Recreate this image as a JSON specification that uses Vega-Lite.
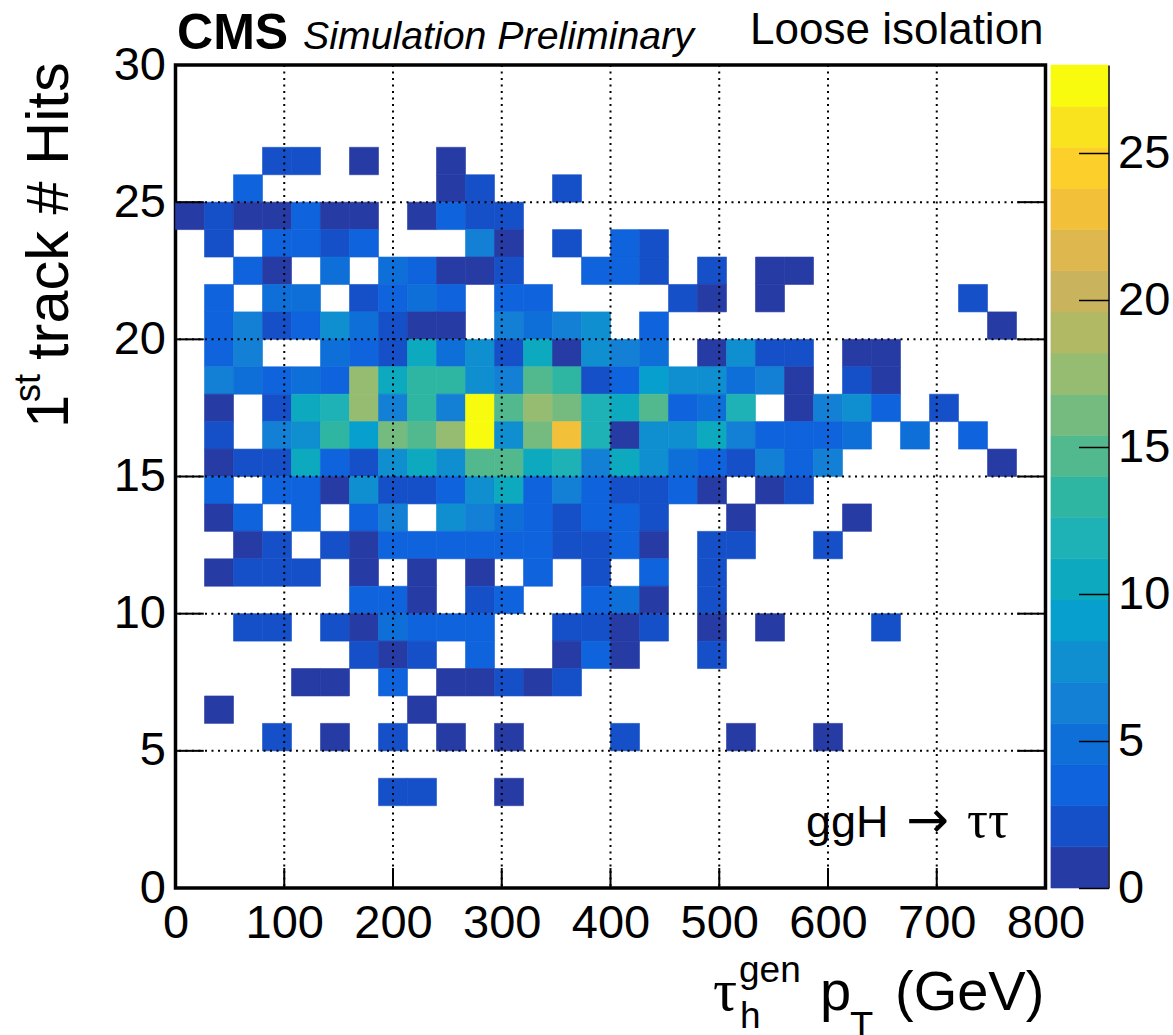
{
"$schema":"https://vega.github.io/schema/vega-lite/v6.json",
"autosize":{"type":"none"},
"padding":{"left":175.5,"top":65,"right":127.5,"bottom":147},
"width":870,"height":823,
"background":"white",
"config":{"view":{"stroke":"black","strokeWidth":3.5},"font":"Liberation Sans"},
"layer":[
{"data":{"values":[
{"pt":80,"pt2":106.67,"hits":26,"hits2":27,"n":2},{"pt":106.67,"pt2":133.33,"hits":26,"hits2":27,"n":2},{"pt":160,"pt2":186.67,"hits":26,"hits2":27,"n":1},{"pt":240,"pt2":266.67,"hits":26,"hits2":27,"n":1},
{"pt":53.33,"pt2":80,"hits":25,"hits2":26,"n":3},{"pt":240,"pt2":266.67,"hits":25,"hits2":26,"n":1},{"pt":266.67,"pt2":293.33,"hits":25,"hits2":26,"n":2},{"pt":346.67,"pt2":373.33,"hits":25,"hits2":26,"n":2},
{"pt":0,"pt2":26.67,"hits":24,"hits2":25,"n":1},{"pt":26.67,"pt2":53.33,"hits":24,"hits2":25,"n":2},{"pt":53.33,"pt2":80,"hits":24,"hits2":25,"n":1},{"pt":80,"pt2":106.67,"hits":24,"hits2":25,"n":1},{"pt":106.67,"pt2":133.33,"hits":24,"hits2":25,"n":3},{"pt":133.33,"pt2":160,"hits":24,"hits2":25,"n":1},{"pt":160,"pt2":186.67,"hits":24,"hits2":25,"n":1},{"pt":213.33,"pt2":240,"hits":24,"hits2":25,"n":1},{"pt":240,"pt2":266.67,"hits":24,"hits2":25,"n":3},{"pt":266.67,"pt2":293.33,"hits":24,"hits2":25,"n":2},{"pt":293.33,"pt2":320,"hits":24,"hits2":25,"n":2},
{"pt":26.67,"pt2":53.33,"hits":23,"hits2":24,"n":2},{"pt":80,"pt2":106.67,"hits":23,"hits2":24,"n":3},{"pt":106.67,"pt2":133.33,"hits":23,"hits2":24,"n":3},{"pt":133.33,"pt2":160,"hits":23,"hits2":24,"n":2},{"pt":160,"pt2":186.67,"hits":23,"hits2":24,"n":3},{"pt":266.67,"pt2":293.33,"hits":23,"hits2":24,"n":6},{"pt":293.33,"pt2":320,"hits":23,"hits2":24,"n":1},{"pt":346.67,"pt2":373.33,"hits":23,"hits2":24,"n":2},{"pt":400,"pt2":426.67,"hits":23,"hits2":24,"n":3},{"pt":426.67,"pt2":453.33,"hits":23,"hits2":24,"n":2},
{"pt":53.33,"pt2":80,"hits":22,"hits2":23,"n":3},{"pt":80,"pt2":106.67,"hits":22,"hits2":23,"n":1},{"pt":133.33,"pt2":160,"hits":22,"hits2":23,"n":5},{"pt":186.67,"pt2":213.33,"hits":22,"hits2":23,"n":5},{"pt":213.33,"pt2":240,"hits":22,"hits2":23,"n":3},{"pt":240,"pt2":266.67,"hits":22,"hits2":23,"n":1},{"pt":266.67,"pt2":293.33,"hits":22,"hits2":23,"n":1},{"pt":293.33,"pt2":320,"hits":22,"hits2":23,"n":2},{"pt":373.33,"pt2":400,"hits":22,"hits2":23,"n":3},{"pt":400,"pt2":426.67,"hits":22,"hits2":23,"n":3},{"pt":426.67,"pt2":453.33,"hits":22,"hits2":23,"n":2},{"pt":480,"pt2":506.67,"hits":22,"hits2":23,"n":2},{"pt":533.33,"pt2":560,"hits":22,"hits2":23,"n":1},{"pt":560,"pt2":586.67,"hits":22,"hits2":23,"n":1},
{"pt":26.67,"pt2":53.33,"hits":21,"hits2":22,"n":3},{"pt":80,"pt2":106.67,"hits":21,"hits2":22,"n":5},{"pt":106.67,"pt2":133.33,"hits":21,"hits2":22,"n":5},{"pt":160,"pt2":186.67,"hits":21,"hits2":22,"n":2},{"pt":186.67,"pt2":213.33,"hits":21,"hits2":22,"n":3},{"pt":213.33,"pt2":240,"hits":21,"hits2":22,"n":5},{"pt":240,"pt2":266.67,"hits":21,"hits2":22,"n":3},{"pt":293.33,"pt2":320,"hits":21,"hits2":22,"n":3},{"pt":320,"pt2":346.67,"hits":21,"hits2":22,"n":3},{"pt":453.33,"pt2":480,"hits":21,"hits2":22,"n":2},{"pt":480,"pt2":506.67,"hits":21,"hits2":22,"n":1},{"pt":533.33,"pt2":560,"hits":21,"hits2":22,"n":1},{"pt":720,"pt2":746.67,"hits":21,"hits2":22,"n":2},
{"pt":26.67,"pt2":53.33,"hits":20,"hits2":21,"n":3},{"pt":53.33,"pt2":80,"hits":20,"hits2":21,"n":6},{"pt":80,"pt2":106.67,"hits":20,"hits2":21,"n":2},{"pt":106.67,"pt2":133.33,"hits":20,"hits2":21,"n":3},{"pt":133.33,"pt2":160,"hits":20,"hits2":21,"n":7},{"pt":160,"pt2":186.67,"hits":20,"hits2":21,"n":5},{"pt":186.67,"pt2":213.33,"hits":20,"hits2":21,"n":2},{"pt":213.33,"pt2":240,"hits":20,"hits2":21,"n":1},{"pt":240,"pt2":266.67,"hits":20,"hits2":21,"n":1},{"pt":293.33,"pt2":320,"hits":20,"hits2":21,"n":6},{"pt":320,"pt2":346.67,"hits":20,"hits2":21,"n":5},{"pt":346.67,"pt2":373.33,"hits":20,"hits2":21,"n":6},{"pt":373.33,"pt2":400,"hits":20,"hits2":21,"n":7},{"pt":426.67,"pt2":453.33,"hits":20,"hits2":21,"n":3},{"pt":746.67,"pt2":773.33,"hits":20,"hits2":21,"n":1},
{"pt":26.67,"pt2":53.33,"hits":19,"hits2":20,"n":3},{"pt":53.33,"pt2":80,"hits":19,"hits2":20,"n":6},{"pt":133.33,"pt2":160,"hits":19,"hits2":20,"n":5},{"pt":160,"pt2":186.67,"hits":19,"hits2":20,"n":3},{"pt":186.67,"pt2":213.33,"hits":19,"hits2":20,"n":2},{"pt":213.33,"pt2":240,"hits":19,"hits2":20,"n":10},{"pt":240,"pt2":266.67,"hits":19,"hits2":20,"n":5},{"pt":266.67,"pt2":293.33,"hits":19,"hits2":20,"n":7},{"pt":293.33,"pt2":320,"hits":19,"hits2":20,"n":2},{"pt":320,"pt2":346.67,"hits":19,"hits2":20,"n":10},{"pt":346.67,"pt2":373.33,"hits":19,"hits2":20,"n":1},{"pt":373.33,"pt2":400,"hits":19,"hits2":20,"n":7},{"pt":400,"pt2":426.67,"hits":19,"hits2":20,"n":6},{"pt":426.67,"pt2":453.33,"hits":19,"hits2":20,"n":5},{"pt":480,"pt2":506.67,"hits":19,"hits2":20,"n":1},{"pt":506.67,"pt2":533.33,"hits":19,"hits2":20,"n":7},{"pt":533.33,"pt2":560,"hits":19,"hits2":20,"n":2},{"pt":560,"pt2":586.67,"hits":19,"hits2":20,"n":2},{"pt":613.33,"pt2":640,"hits":19,"hits2":20,"n":1},{"pt":640,"pt2":666.67,"hits":19,"hits2":20,"n":1},
{"pt":26.67,"pt2":53.33,"hits":18,"hits2":19,"n":6},{"pt":53.33,"pt2":80,"hits":18,"hits2":19,"n":5},{"pt":80,"pt2":106.67,"hits":18,"hits2":19,"n":3},{"pt":106.67,"pt2":133.33,"hits":18,"hits2":19,"n":5},{"pt":133.33,"pt2":160,"hits":18,"hits2":19,"n":3},{"pt":160,"pt2":186.67,"hits":18,"hits2":19,"n":17},{"pt":186.67,"pt2":213.33,"hits":18,"hits2":19,"n":10},{"pt":213.33,"pt2":240,"hits":18,"hits2":19,"n":13},{"pt":240,"pt2":266.67,"hits":18,"hits2":19,"n":13},{"pt":266.67,"pt2":293.33,"hits":18,"hits2":19,"n":7},{"pt":293.33,"pt2":320,"hits":18,"hits2":19,"n":6},{"pt":320,"pt2":346.67,"hits":18,"hits2":19,"n":14},{"pt":346.67,"pt2":373.33,"hits":18,"hits2":19,"n":13},{"pt":373.33,"pt2":400,"hits":18,"hits2":19,"n":2},{"pt":400,"pt2":426.67,"hits":18,"hits2":19,"n":3},{"pt":426.67,"pt2":453.33,"hits":18,"hits2":19,"n":9},{"pt":453.33,"pt2":480,"hits":18,"hits2":19,"n":7},{"pt":480,"pt2":506.67,"hits":18,"hits2":19,"n":7},{"pt":506.67,"pt2":533.33,"hits":18,"hits2":19,"n":5},{"pt":533.33,"pt2":560,"hits":18,"hits2":19,"n":6},{"pt":560,"pt2":586.67,"hits":18,"hits2":19,"n":1},{"pt":613.33,"pt2":640,"hits":18,"hits2":19,"n":2},{"pt":640,"pt2":666.67,"hits":18,"hits2":19,"n":1},
{"pt":26.67,"pt2":53.33,"hits":17,"hits2":18,"n":1},{"pt":80,"pt2":106.67,"hits":17,"hits2":18,"n":2},{"pt":106.67,"pt2":133.33,"hits":17,"hits2":18,"n":10},{"pt":133.33,"pt2":160,"hits":17,"hits2":18,"n":12},{"pt":160,"pt2":186.67,"hits":17,"hits2":18,"n":17},{"pt":186.67,"pt2":213.33,"hits":17,"hits2":18,"n":6},{"pt":213.33,"pt2":240,"hits":17,"hits2":18,"n":13},{"pt":240,"pt2":266.67,"hits":17,"hits2":18,"n":6},{"pt":266.67,"pt2":293.33,"hits":17,"hits2":18,"n":28},{"pt":293.33,"pt2":320,"hits":17,"hits2":18,"n":14},{"pt":320,"pt2":346.67,"hits":17,"hits2":18,"n":17},{"pt":346.67,"pt2":373.33,"hits":17,"hits2":18,"n":16},{"pt":373.33,"pt2":400,"hits":17,"hits2":18,"n":12},{"pt":400,"pt2":426.67,"hits":17,"hits2":18,"n":10},{"pt":426.67,"pt2":453.33,"hits":17,"hits2":18,"n":14},{"pt":453.33,"pt2":480,"hits":17,"hits2":18,"n":3},{"pt":480,"pt2":506.67,"hits":17,"hits2":18,"n":5},{"pt":506.67,"pt2":533.33,"hits":17,"hits2":18,"n":12},{"pt":560,"pt2":586.67,"hits":17,"hits2":18,"n":1},{"pt":586.67,"pt2":613.33,"hits":17,"hits2":18,"n":6},{"pt":613.33,"pt2":640,"hits":17,"hits2":18,"n":7},{"pt":640,"pt2":666.67,"hits":17,"hits2":18,"n":3},{"pt":693.33,"pt2":720,"hits":17,"hits2":18,"n":2},
{"pt":26.67,"pt2":53.33,"hits":16,"hits2":17,"n":2},{"pt":80,"pt2":106.67,"hits":16,"hits2":17,"n":6},{"pt":106.67,"pt2":133.33,"hits":16,"hits2":17,"n":7},{"pt":133.33,"pt2":160,"hits":16,"hits2":17,"n":13},{"pt":160,"pt2":186.67,"hits":16,"hits2":17,"n":9},{"pt":186.67,"pt2":213.33,"hits":16,"hits2":17,"n":16},{"pt":213.33,"pt2":240,"hits":16,"hits2":17,"n":14},{"pt":240,"pt2":266.67,"hits":16,"hits2":17,"n":17},{"pt":266.67,"pt2":293.33,"hits":16,"hits2":17,"n":28},{"pt":293.33,"pt2":320,"hits":16,"hits2":17,"n":7},{"pt":320,"pt2":346.67,"hits":16,"hits2":17,"n":16},{"pt":346.67,"pt2":373.33,"hits":16,"hits2":17,"n":23},{"pt":373.33,"pt2":400,"hits":16,"hits2":17,"n":12},{"pt":400,"pt2":426.67,"hits":16,"hits2":17,"n":1},{"pt":426.67,"pt2":453.33,"hits":16,"hits2":17,"n":7},{"pt":453.33,"pt2":480,"hits":16,"hits2":17,"n":7},{"pt":480,"pt2":506.67,"hits":16,"hits2":17,"n":10},{"pt":506.67,"pt2":533.33,"hits":16,"hits2":17,"n":6},{"pt":533.33,"pt2":560,"hits":16,"hits2":17,"n":3},{"pt":560,"pt2":586.67,"hits":16,"hits2":17,"n":3},{"pt":586.67,"pt2":613.33,"hits":16,"hits2":17,"n":3},{"pt":613.33,"pt2":640,"hits":16,"hits2":17,"n":5},{"pt":666.67,"pt2":693.33,"hits":16,"hits2":17,"n":5},{"pt":720,"pt2":746.67,"hits":16,"hits2":17,"n":3},
{"pt":26.67,"pt2":53.33,"hits":15,"hits2":16,"n":1},{"pt":53.33,"pt2":80,"hits":15,"hits2":16,"n":2},{"pt":80,"pt2":106.67,"hits":15,"hits2":16,"n":2},{"pt":106.67,"pt2":133.33,"hits":15,"hits2":16,"n":10},{"pt":133.33,"pt2":160,"hits":15,"hits2":16,"n":3},{"pt":160,"pt2":186.67,"hits":15,"hits2":16,"n":2},{"pt":186.67,"pt2":213.33,"hits":15,"hits2":16,"n":7},{"pt":213.33,"pt2":240,"hits":15,"hits2":16,"n":10},{"pt":240,"pt2":266.67,"hits":15,"hits2":16,"n":7},{"pt":266.67,"pt2":293.33,"hits":15,"hits2":16,"n":14},{"pt":293.33,"pt2":320,"hits":15,"hits2":16,"n":14},{"pt":320,"pt2":346.67,"hits":15,"hits2":16,"n":10},{"pt":346.67,"pt2":373.33,"hits":15,"hits2":16,"n":12},{"pt":373.33,"pt2":400,"hits":15,"hits2":16,"n":6},{"pt":400,"pt2":426.67,"hits":15,"hits2":16,"n":10},{"pt":426.67,"pt2":453.33,"hits":15,"hits2":16,"n":7},{"pt":453.33,"pt2":480,"hits":15,"hits2":16,"n":5},{"pt":480,"pt2":506.67,"hits":15,"hits2":16,"n":3},{"pt":506.67,"pt2":533.33,"hits":15,"hits2":16,"n":2},{"pt":533.33,"pt2":560,"hits":15,"hits2":16,"n":6},{"pt":560,"pt2":586.67,"hits":15,"hits2":16,"n":3},{"pt":586.67,"pt2":613.33,"hits":15,"hits2":16,"n":6},{"pt":746.67,"pt2":773.33,"hits":15,"hits2":16,"n":1},
{"pt":26.67,"pt2":53.33,"hits":14,"hits2":15,"n":3},{"pt":80,"pt2":106.67,"hits":14,"hits2":15,"n":3},{"pt":106.67,"pt2":133.33,"hits":14,"hits2":15,"n":3},{"pt":133.33,"pt2":160,"hits":14,"hits2":15,"n":1},{"pt":160,"pt2":186.67,"hits":14,"hits2":15,"n":7},{"pt":186.67,"pt2":213.33,"hits":14,"hits2":15,"n":2},{"pt":213.33,"pt2":240,"hits":14,"hits2":15,"n":2},{"pt":240,"pt2":266.67,"hits":14,"hits2":15,"n":3},{"pt":266.67,"pt2":293.33,"hits":14,"hits2":15,"n":7},{"pt":293.33,"pt2":320,"hits":14,"hits2":15,"n":10},{"pt":320,"pt2":346.67,"hits":14,"hits2":15,"n":3},{"pt":346.67,"pt2":373.33,"hits":14,"hits2":15,"n":6},{"pt":373.33,"pt2":400,"hits":14,"hits2":15,"n":3},{"pt":400,"pt2":426.67,"hits":14,"hits2":15,"n":2},{"pt":426.67,"pt2":453.33,"hits":14,"hits2":15,"n":2},{"pt":453.33,"pt2":480,"hits":14,"hits2":15,"n":3},{"pt":480,"pt2":506.67,"hits":14,"hits2":15,"n":1},{"pt":533.33,"pt2":560,"hits":14,"hits2":15,"n":1},{"pt":560,"pt2":586.67,"hits":14,"hits2":15,"n":2},
{"pt":26.67,"pt2":53.33,"hits":13,"hits2":14,"n":1},{"pt":53.33,"pt2":80,"hits":13,"hits2":14,"n":3},{"pt":106.67,"pt2":133.33,"hits":13,"hits2":14,"n":3},{"pt":160,"pt2":186.67,"hits":13,"hits2":14,"n":3},{"pt":186.67,"pt2":213.33,"hits":13,"hits2":14,"n":6},{"pt":240,"pt2":266.67,"hits":13,"hits2":14,"n":7},{"pt":266.67,"pt2":293.33,"hits":13,"hits2":14,"n":6},{"pt":293.33,"pt2":320,"hits":13,"hits2":14,"n":5},{"pt":320,"pt2":346.67,"hits":13,"hits2":14,"n":3},{"pt":346.67,"pt2":373.33,"hits":13,"hits2":14,"n":2},{"pt":373.33,"pt2":400,"hits":13,"hits2":14,"n":3},{"pt":400,"pt2":426.67,"hits":13,"hits2":14,"n":3},{"pt":426.67,"pt2":453.33,"hits":13,"hits2":14,"n":2},{"pt":506.67,"pt2":533.33,"hits":13,"hits2":14,"n":1},{"pt":613.33,"pt2":640,"hits":13,"hits2":14,"n":1},
{"pt":53.33,"pt2":80,"hits":12,"hits2":13,"n":1},{"pt":80,"pt2":106.67,"hits":12,"hits2":13,"n":2},{"pt":133.33,"pt2":160,"hits":12,"hits2":13,"n":2},{"pt":160,"pt2":186.67,"hits":12,"hits2":13,"n":1},{"pt":186.67,"pt2":213.33,"hits":12,"hits2":13,"n":3},{"pt":213.33,"pt2":240,"hits":12,"hits2":13,"n":3},{"pt":240,"pt2":266.67,"hits":12,"hits2":13,"n":3},{"pt":266.67,"pt2":293.33,"hits":12,"hits2":13,"n":3},{"pt":293.33,"pt2":320,"hits":12,"hits2":13,"n":3},{"pt":320,"pt2":346.67,"hits":12,"hits2":13,"n":3},{"pt":346.67,"pt2":373.33,"hits":12,"hits2":13,"n":2},{"pt":373.33,"pt2":400,"hits":12,"hits2":13,"n":2},{"pt":400,"pt2":426.67,"hits":12,"hits2":13,"n":3},{"pt":426.67,"pt2":453.33,"hits":12,"hits2":13,"n":1},{"pt":480,"pt2":506.67,"hits":12,"hits2":13,"n":2},{"pt":506.67,"pt2":533.33,"hits":12,"hits2":13,"n":2},{"pt":586.67,"pt2":613.33,"hits":12,"hits2":13,"n":2},
{"pt":26.67,"pt2":53.33,"hits":11,"hits2":12,"n":1},{"pt":53.33,"pt2":80,"hits":11,"hits2":12,"n":2},{"pt":80,"pt2":106.67,"hits":11,"hits2":12,"n":2},{"pt":106.67,"pt2":133.33,"hits":11,"hits2":12,"n":2},{"pt":160,"pt2":186.67,"hits":11,"hits2":12,"n":1},{"pt":213.33,"pt2":240,"hits":11,"hits2":12,"n":1},{"pt":266.67,"pt2":293.33,"hits":11,"hits2":12,"n":1},{"pt":320,"pt2":346.67,"hits":11,"hits2":12,"n":3},{"pt":373.33,"pt2":400,"hits":11,"hits2":12,"n":2},{"pt":426.67,"pt2":453.33,"hits":11,"hits2":12,"n":3},{"pt":480,"pt2":506.67,"hits":11,"hits2":12,"n":2},
{"pt":160,"pt2":186.67,"hits":10,"hits2":11,"n":3},{"pt":186.67,"pt2":213.33,"hits":10,"hits2":11,"n":3},{"pt":213.33,"pt2":240,"hits":10,"hits2":11,"n":1},{"pt":266.67,"pt2":293.33,"hits":10,"hits2":11,"n":2},{"pt":293.33,"pt2":320,"hits":10,"hits2":11,"n":3},{"pt":373.33,"pt2":400,"hits":10,"hits2":11,"n":3},{"pt":400,"pt2":426.67,"hits":10,"hits2":11,"n":5},{"pt":426.67,"pt2":453.33,"hits":10,"hits2":11,"n":1},{"pt":480,"pt2":506.67,"hits":10,"hits2":11,"n":2},
{"pt":53.33,"pt2":80,"hits":9,"hits2":10,"n":2},{"pt":80,"pt2":106.67,"hits":9,"hits2":10,"n":2},{"pt":133.33,"pt2":160,"hits":9,"hits2":10,"n":2},{"pt":160,"pt2":186.67,"hits":9,"hits2":10,"n":1},{"pt":186.67,"pt2":213.33,"hits":9,"hits2":10,"n":5},{"pt":213.33,"pt2":240,"hits":9,"hits2":10,"n":3},{"pt":240,"pt2":266.67,"hits":9,"hits2":10,"n":3},{"pt":266.67,"pt2":293.33,"hits":9,"hits2":10,"n":3},{"pt":346.67,"pt2":373.33,"hits":9,"hits2":10,"n":2},{"pt":373.33,"pt2":400,"hits":9,"hits2":10,"n":2},{"pt":400,"pt2":426.67,"hits":9,"hits2":10,"n":1},{"pt":426.67,"pt2":453.33,"hits":9,"hits2":10,"n":2},{"pt":480,"pt2":506.67,"hits":9,"hits2":10,"n":1},{"pt":533.33,"pt2":560,"hits":9,"hits2":10,"n":1},{"pt":640,"pt2":666.67,"hits":9,"hits2":10,"n":2},
{"pt":160,"pt2":186.67,"hits":8,"hits2":9,"n":2},{"pt":186.67,"pt2":213.33,"hits":8,"hits2":9,"n":1},{"pt":213.33,"pt2":240,"hits":8,"hits2":9,"n":2},{"pt":266.67,"pt2":293.33,"hits":8,"hits2":9,"n":3},{"pt":346.67,"pt2":373.33,"hits":8,"hits2":9,"n":1},{"pt":373.33,"pt2":400,"hits":8,"hits2":9,"n":3},{"pt":400,"pt2":426.67,"hits":8,"hits2":9,"n":1},{"pt":480,"pt2":506.67,"hits":8,"hits2":9,"n":2},
{"pt":106.67,"pt2":133.33,"hits":7,"hits2":8,"n":1},{"pt":133.33,"pt2":160,"hits":7,"hits2":8,"n":1},{"pt":186.67,"pt2":213.33,"hits":7,"hits2":8,"n":3},{"pt":240,"pt2":266.67,"hits":7,"hits2":8,"n":1},{"pt":266.67,"pt2":293.33,"hits":7,"hits2":8,"n":1},{"pt":293.33,"pt2":320,"hits":7,"hits2":8,"n":2},{"pt":320,"pt2":346.67,"hits":7,"hits2":8,"n":1},{"pt":346.67,"pt2":373.33,"hits":7,"hits2":8,"n":2},
{"pt":26.67,"pt2":53.33,"hits":6,"hits2":7,"n":1},{"pt":213.33,"pt2":240,"hits":6,"hits2":7,"n":1},
{"pt":80,"pt2":106.67,"hits":5,"hits2":6,"n":2},{"pt":133.33,"pt2":160,"hits":5,"hits2":6,"n":1},{"pt":186.67,"pt2":213.33,"hits":5,"hits2":6,"n":2},{"pt":240,"pt2":266.67,"hits":5,"hits2":6,"n":1},{"pt":293.33,"pt2":320,"hits":5,"hits2":6,"n":1},{"pt":400,"pt2":426.67,"hits":5,"hits2":6,"n":2},{"pt":506.67,"pt2":533.33,"hits":5,"hits2":6,"n":1},{"pt":586.67,"pt2":613.33,"hits":5,"hits2":6,"n":1},
{"pt":186.67,"pt2":213.33,"hits":3,"hits2":4,"n":2},{"pt":213.33,"pt2":240,"hits":3,"hits2":4,"n":2},{"pt":293.33,"pt2":320,"hits":3,"hits2":4,"n":1}
]},
"mark":{"type":"rect","strokeWidth":0.6},
"encoding":{
"x":{"field":"pt","type":"quantitative","scale":{"domain":[0,800],"nice":false,"zero":false},
"axis":{"orient":"bottom","title":null,"values":[0,100,200,300,400,500,600,700,800],"format":"d","grid":false,"ticks":false,"domain":false,"labelFont":"Liberation Sans","labelFontSize":47,"labelColor":"black","labelPadding":12,"labelFlush":false,"labelBound":false,"labelOverlap":false}},
"x2":{"field":"pt2"},
"y":{"field":"hits","type":"quantitative","scale":{"domain":[0,30],"nice":false,"zero":false},
"axis":{"orient":"left","title":null,"values":[0,5,10,15,20,25,30],"format":"d","grid":false,"ticks":false,"domain":false,"labelFont":"Liberation Sans","labelFontSize":47,"labelColor":"black","labelPadding":10,"labelFlush":false,"labelBound":false,"labelOverlap":false}},
"y2":{"field":"hits2"},
"color":{"field":"n","type":"quantitative","legend":null,"scale":{"type":"quantize","domain":[0,28],"nice":false,"zero":false,"range":["#273ba5","#1650c8","#0f63dc","#0f6fd8","#137fd5","#0f8fd0","#07a0ce","#0ca9bf","#1eb1b6","#2fb6a3","#52b98f","#75bb7f","#96bc72","#b2b965","#c9b35d","#deb84e","#f3c03a","#fdcf2a","#f8e31e","#f9fb0e"]}},
"stroke":{"field":"n","type":"quantitative","legend":null,"scale":{"type":"quantize","domain":[0,28],"nice":false,"zero":false,"range":["#273ba5","#1650c8","#0f63dc","#0f6fd8","#137fd5","#0f8fd0","#07a0ce","#0ca9bf","#1eb1b6","#2fb6a3","#52b98f","#75bb7f","#96bc72","#b2b965","#c9b35d","#deb84e","#f3c03a","#fdcf2a","#f8e31e","#f9fb0e"]}}
}},
{"data":{"values":[{"v":100},{"v":200},{"v":300},{"v":400},{"v":500},{"v":600},{"v":700}]},
"mark":{"type":"rule","color":"black","strokeWidth":2,"strokeDash":[2,4.5]},
"encoding":{"x":{"field":"v","type":"quantitative","axis":null}}},
{"data":{"values":[{"v":5},{"v":10},{"v":15},{"v":20},{"v":25}]},
"mark":{"type":"rule","color":"black","strokeWidth":2,"strokeDash":[2,4.5]},
"encoding":{"y":{"field":"v","type":"quantitative","axis":null,"scale":{"domain":[0,30],"nice":false,"zero":false}}}},
{"data":{"values":[{"v":5},{"v":10},{"v":15},{"v":20},{"v":25}]},
"mark":{"type":"rule","color":"black","strokeWidth":2},
"encoding":{"y":{"field":"v","type":"quantitative","axis":null,"scale":{"domain":[0,30],"nice":false,"zero":false}},"x":{"datum":0,"axis":null},"x2":{"datum":26}}},
{"data":{"values":[{"v":5},{"v":10},{"v":15},{"v":20},{"v":25}]},
"mark":{"type":"rule","color":"black","strokeWidth":2},
"encoding":{"y":{"field":"v","type":"quantitative","axis":null,"scale":{"domain":[0,30],"nice":false,"zero":false}},"x":{"datum":774,"axis":null},"x2":{"datum":800}}},
{"data":{"values":[{"v":100},{"v":200},{"v":300},{"v":400},{"v":500},{"v":600},{"v":700}]},
"mark":{"type":"rule","color":"black","strokeWidth":2},
"encoding":{"x":{"field":"v","type":"quantitative","axis":null},"y":{"datum":0,"axis":null,"scale":{"domain":[0,30],"nice":false,"zero":false}},"y2":{"datum":0.73}}},
{"data":{"values":[{"label":"CMS"}]},"mark":{"type":"text","font":"Liberation Sans","fontWeight":"bold","fontSize":50,"align":"left","baseline":"alphabetic","color":"black"},"encoding":{"text":{"field":"label"},"x":{"datum":1.4,"axis":null},"y":{"datum":30.6,"axis":null,"scale":{"domain":[0,30],"nice":false,"zero":false}}}},
{"data":{"values":[{"label":"Simulation Preliminary"}]},"mark":{"type":"text","font":"Liberation Sans","fontStyle":"italic","fontSize":39.3,"align":"left","baseline":"alphabetic","color":"black"},"encoding":{"text":{"field":"label"},"x":{"datum":117.2,"axis":null},"y":{"datum":30.6,"axis":null,"scale":{"domain":[0,30],"nice":false,"zero":false}}}},
{"data":{"values":[{"label":"Loose isolation"}]},"mark":{"type":"text","font":"Liberation Sans","fontSize":44,"align":"left","baseline":"alphabetic","color":"black"},"encoding":{"text":{"field":"label"},"x":{"datum":528.3,"axis":null},"y":{"datum":30.77,"axis":null,"scale":{"domain":[0,30],"nice":false,"zero":false}}}},
{"data":{"values":[{"label":"ggH"}]},"mark":{"type":"text","font":"Liberation Sans","fontSize":45,"align":"left","baseline":"alphabetic","color":"black"},"encoding":{"text":{"field":"label"},"x":{"datum":579.8,"axis":null},"y":{"datum":1.86,"axis":null,"scale":{"domain":[0,30],"nice":false,"zero":false}}}},
{"data":{"values":[{"label":"→"}]},"mark":{"type":"text","font":"DejaVu Sans","fontSize":51,"align":"left","baseline":"alphabetic","color":"black"},"encoding":{"text":{"field":"label"},"x":{"datum":672,"axis":null},"y":{"datum":1.86,"axis":null,"scale":{"domain":[0,30],"nice":false,"zero":false}}}},
{"data":{"values":[{"label":"ττ"}]},"mark":{"type":"text","font":"Liberation Serif","fontSize":52,"align":"left","baseline":"alphabetic","color":"black"},"encoding":{"text":{"field":"label"},"x":{"datum":727.8,"axis":null},"y":{"datum":1.86,"axis":null,"scale":{"domain":[0,30],"nice":false,"zero":false}}}},
{"data":{"values":[{"label":"τ"}]},"mark":{"type":"text","font":"Liberation Serif","fontSize":60,"align":"left","baseline":"alphabetic","color":"black"},"encoding":{"text":{"field":"label"},"x":{"datum":494.3,"axis":null},"y":{"datum":-4.45,"axis":null,"scale":{"domain":[0,30],"nice":false,"zero":false}}}},
{"data":{"values":[{"label":"gen"}]},"mark":{"type":"text","font":"Liberation Sans","fontSize":37,"align":"left","baseline":"alphabetic","color":"black"},"encoding":{"text":{"field":"label"},"x":{"datum":518.2,"axis":null},"y":{"datum":-3.43,"axis":null,"scale":{"domain":[0,30],"nice":false,"zero":false}}}},
{"data":{"values":[{"label":"h"}]},"mark":{"type":"text","font":"Liberation Sans","fontSize":37,"align":"left","baseline":"alphabetic","color":"black"},"encoding":{"text":{"field":"label"},"x":{"datum":519.1,"axis":null},"y":{"datum":-5.1,"axis":null,"scale":{"domain":[0,30],"nice":false,"zero":false}}}},
{"data":{"values":[{"label":"p"}]},"mark":{"type":"text","font":"Liberation Sans","fontSize":56,"align":"left","baseline":"alphabetic","color":"black"},"encoding":{"text":{"field":"label"},"x":{"datum":592.6,"axis":null},"y":{"datum":-4.45,"axis":null,"scale":{"domain":[0,30],"nice":false,"zero":false}}}},
{"data":{"values":[{"label":"T"}]},"mark":{"type":"text","font":"Liberation Sans","fontSize":38,"align":"left","baseline":"alphabetic","color":"black"},"encoding":{"text":{"field":"label"},"x":{"datum":620.2,"axis":null},"y":{"datum":-5.5,"axis":null,"scale":{"domain":[0,30],"nice":false,"zero":false}}}},
{"data":{"values":[{"label":"(GeV)"}]},"mark":{"type":"text","font":"Liberation Sans","fontSize":56,"align":"left","baseline":"alphabetic","color":"black"},"encoding":{"text":{"field":"label"},"x":{"datum":661.6,"axis":null},"y":{"datum":-4.45,"axis":null,"scale":{"domain":[0,30],"nice":false,"zero":false}}}},
{"data":{"values":[{"label":"1"}]},"mark":{"type":"text","font":"Liberation Sans","fontSize":59.5,"angle":270,"align":"left","baseline":"alphabetic","color":"black"},"encoding":{"text":{"field":"label"},"x":{"datum":-98.9,"axis":null},"y":{"datum":16.77,"axis":null,"scale":{"domain":[0,30],"nice":false,"zero":false}}}},
{"data":{"values":[{"label":"st"}]},"mark":{"type":"text","font":"Liberation Sans","fontSize":36,"angle":270,"align":"left","baseline":"alphabetic","color":"black"},"encoding":{"text":{"field":"label"},"x":{"datum":-124.6,"axis":null},"y":{"datum":17.72,"axis":null,"scale":{"domain":[0,30],"nice":false,"zero":false}}}},
{"data":{"values":[{"label":"track # Hits"}]},"mark":{"type":"text","font":"Liberation Sans","fontSize":59.5,"angle":270,"align":"left","baseline":"alphabetic","color":"black"},"encoding":{"text":{"field":"label"},"x":{"datum":-98.9,"axis":null},"y":{"datum":19.25,"axis":null,"scale":{"domain":[0,30],"nice":false,"zero":false}}}},
{"data":{"values":[
{"lo":0,"hi":1.4,"mid":0.7},{"lo":1.4,"hi":2.8,"mid":2.1},{"lo":2.8,"hi":4.2,"mid":3.5},{"lo":4.2,"hi":5.6,"mid":4.9},{"lo":5.6,"hi":7,"mid":6.3},{"lo":7,"hi":8.4,"mid":7.7},{"lo":8.4,"hi":9.8,"mid":9.1},{"lo":9.8,"hi":11.2,"mid":10.5},{"lo":11.2,"hi":12.6,"mid":11.9},{"lo":12.6,"hi":14,"mid":13.3},{"lo":14,"hi":15.4,"mid":14.7},{"lo":15.4,"hi":16.8,"mid":16.1},{"lo":16.8,"hi":18.2,"mid":17.5},{"lo":18.2,"hi":19.6,"mid":18.9},{"lo":19.6,"hi":21,"mid":20.3},{"lo":21,"hi":22.4,"mid":21.7},{"lo":22.4,"hi":23.8,"mid":23.1},{"lo":23.8,"hi":25.2,"mid":24.5},{"lo":25.2,"hi":26.6,"mid":25.9},{"lo":26.6,"hi":28,"mid":27.3}
]},
"mark":{"type":"rect","strokeWidth":0.6},
"encoding":{
"x":{"datum":805,"axis":null},"x2":{"datum":857.5},
"y":{"field":"lo","type":"quantitative","scale":{"domain":[0,28],"nice":false,"zero":false},
"axis":{"orient":"right","offset":63,"title":null,"values":[0,5,10,15,20,25],"format":"d","grid":false,"ticks":true,"tickSize":-30,"tickColor":"black","tickWidth":1.5,"domain":true,"domainColor":"black","domainWidth":1.5,"zindex":1,"labelFont":"Liberation Sans","labelFontSize":47,"labelColor":"black","labelPadding":39,"labelFlush":false,"labelBound":false,"labelOverlap":false}},
"y2":{"field":"hi"},
"color":{"field":"mid","type":"quantitative","legend":null,"scale":{"type":"quantize","domain":[0,28],"nice":false,"zero":false,"range":["#273ba5","#1650c8","#0f63dc","#0f6fd8","#137fd5","#0f8fd0","#07a0ce","#0ca9bf","#1eb1b6","#2fb6a3","#52b98f","#75bb7f","#96bc72","#b2b965","#c9b35d","#deb84e","#f3c03a","#fdcf2a","#f8e31e","#f9fb0e"]}},
"stroke":{"field":"mid","type":"quantitative","legend":null,"scale":{"type":"quantize","domain":[0,28],"nice":false,"zero":false,"range":["#273ba5","#1650c8","#0f63dc","#0f6fd8","#137fd5","#0f8fd0","#07a0ce","#0ca9bf","#1eb1b6","#2fb6a3","#52b98f","#75bb7f","#96bc72","#b2b965","#c9b35d","#deb84e","#f3c03a","#fdcf2a","#f8e31e","#f9fb0e"]}}
}}
],
"resolve":{"scale":{"y":"independent"},"axis":{"x":"independent","y":"independent"}}
}
